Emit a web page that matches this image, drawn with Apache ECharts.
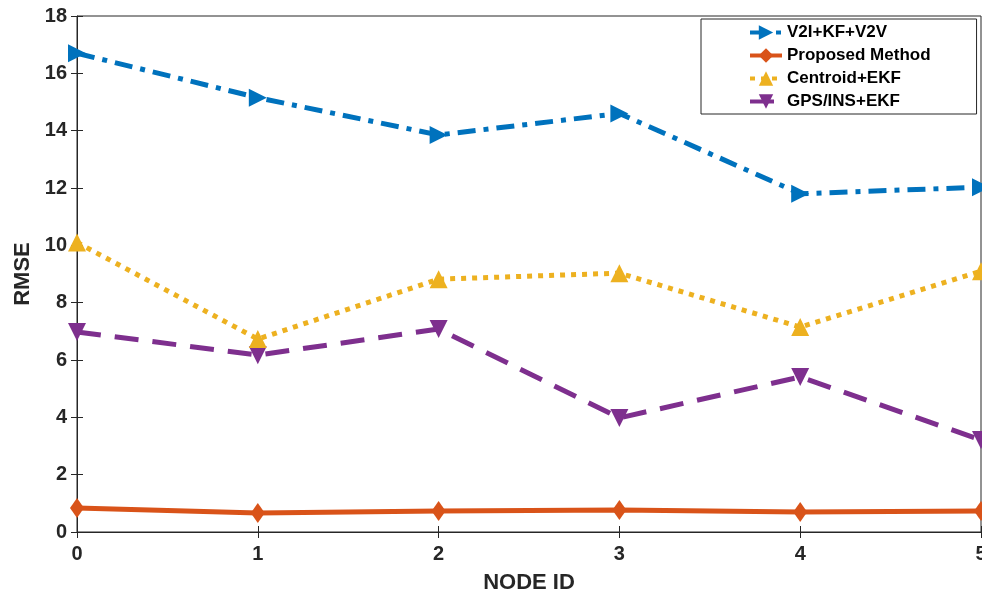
<!DOCTYPE html>
<html><head><meta charset="utf-8">
<script src="https://cdn.jsdelivr.net/npm/echarts@6/dist/echarts.min.js"></script>
<style>html,body{margin:0;padding:0;background:#fff}#c{width:982px;height:603px}</style>
</head><body><div id="c"></div>
<script>
const nodeIds = [0, 1, 2, 3, 4, 5];
const v2iKfV2v = [16.7, 15.15, 13.85, 14.6, 11.8, 12.03];
const proposed = [0.84, 0.66, 0.73, 0.77, 0.7, 0.73];
const centroidEkf = [10.1, 6.73, 8.82, 9.03, 7.15, 9.1];
const gpsInsEkf = [6.98, 6.17, 7.08, 3.98, 5.41, 3.21];
const yTicks = [0, 2, 4, 6, 8, 10, 12, 14, 16, 18];

const pair = a => nodeIds.map((x, i) => [x, a[i]]);
const chart = echarts.init(document.getElementById('c'));
const font = 'Liberation Sans, Arial, Helvetica, sans-serif';
const dark = '#262626';
const tickOnly = {
  axisLine: {show: false},
  axisTick: {show: true, inside: true, length: 6, lineStyle: {color: dark}},
  axisLabel: {show: false}, splitLine: {show: false}
};
chart.setOption({
  animation: false,
  grid: {left: 77, right: 1, top: 16, bottom: 71, show: true, borderColor: dark, borderWidth: 1,
    containLabel: false, outerBoundsMode: 'none'},
  legend: {
    orient: 'vertical', left: 701, top: 19, itemWidth: 32, itemHeight: 18, itemGap: 6,
    borderColor: dark, borderWidth: 1, padding: [5, 46, 4, 47], backgroundColor: '#fff',
    lineStyle: {width: 4},
    textStyle: {fontFamily: font, fontWeight: 'bold', fontSize: 17, color: '#000'},
    data: ['V2I+KF+V2V', 'Proposed Method', 'Centroid+EKF', 'GPS/INS+EKF']
  },
  xAxis: [{
    type: 'value', min: 0, max: 5, interval: 1,
    name: 'NODE ID', nameLocation: 'middle', nameGap: 40,
    nameTextStyle: {fontFamily: font, fontWeight: 'bold', fontSize: 22, color: dark},
    axisLine: {lineStyle: {color: dark}},
    axisTick: {inside: true, length: 6, lineStyle: {color: dark}},
    axisLabel: {fontFamily: font, fontWeight: 'bold', fontSize: 20, color: dark, margin: 12},
    splitLine: {show: false}
  }, Object.assign({type: 'value', min: 0, max: 5, interval: 1, position: 'top'}, tickOnly)],
  yAxis: [{
    type: 'value', min: 0, max: 18, interval: 2,
    name: 'RMSE', nameLocation: 'middle', nameGap: 36,
    nameTextStyle: {fontFamily: font, fontWeight: 'bold', fontSize: 22, color: dark},
    axisLine: {show: true, lineStyle: {color: dark}},
    axisTick: {show: true, inside: true, length: 6, lineStyle: {color: dark}},
    axisLabel: {fontFamily: font, fontWeight: 'bold', fontSize: 20, color: dark, margin: 10,
      formatter: v => yTicks.includes(v) ? String(v) : ''},
    splitLine: {show: false}
  }, Object.assign({type: 'value', min: 0, max: 18, interval: 2, position: 'right'}, tickOnly)],
  series: [
    {name: 'V2I+KF+V2V', type: 'line', data: pair(v2iKfV2v), symbol: 'triangle', symbolRotate: -90, symbolSize: 18,
      itemStyle: {color: '#0072BD'}, lineStyle: {width: 5, type: [18, 8, 5, 8], color: '#0072BD'}, z: 4},
    {name: 'Proposed Method', type: 'line', data: pair(proposed), symbol: 'diamond', symbolSize: [14, 20],
      itemStyle: {color: '#D95319'}, lineStyle: {width: 5, color: '#D95319'}, z: 5},
    {name: 'Centroid+EKF', type: 'line', data: pair(centroidEkf), symbol: 'triangle', symbolSize: 18,
      itemStyle: {color: '#EDB120'}, lineStyle: {width: 5, type: [5, 6], color: '#EDB120'}, z: 3},
    {name: 'GPS/INS+EKF', type: 'line', data: pair(gpsInsEkf), symbol: 'triangle', symbolRotate: 180, symbolSize: 18,
      itemStyle: {color: '#7E2F8E'}, lineStyle: {width: 5, type: [24, 14], color: '#7E2F8E'}, z: 2}
  ]
});
</script></body></html>
